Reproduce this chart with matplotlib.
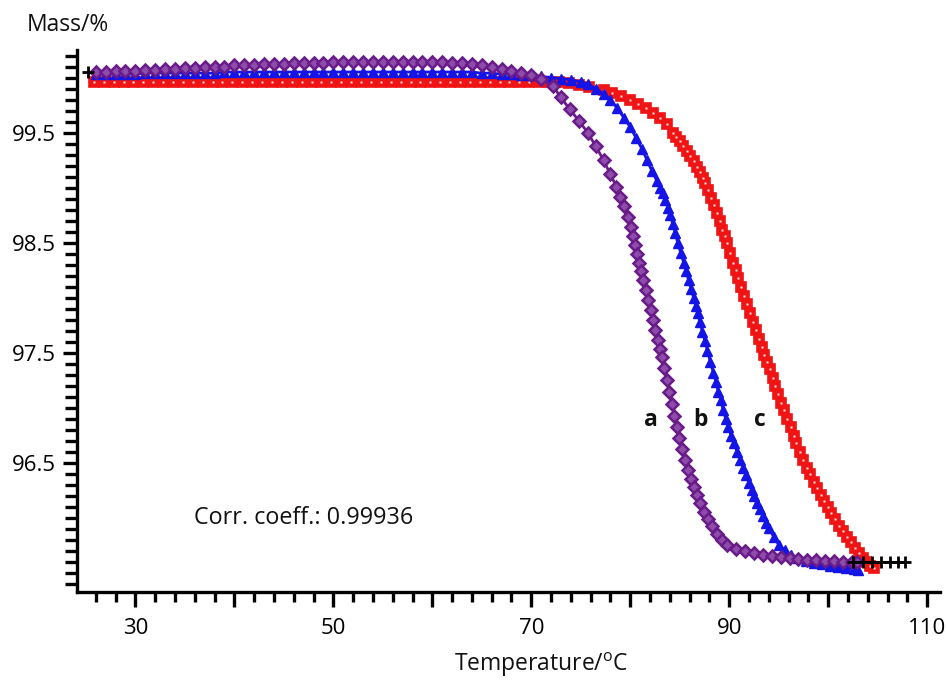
import matplotlib
matplotlib.use("Agg")
import matplotlib.pyplot as plt
from matplotlib.ticker import MultipleLocator, FixedLocator, FuncFormatter

plt.rcParams['font.family'] = ['Open Sans', 'DejaVu Sans']
plt.rcParams['mathtext.fontset'] = 'custom'
plt.rcParams['mathtext.rm'] = 'Open Sans'

# ---------------- data ----------------
temp_a = [26, 27, 28, 29, 30, 31, 32, 33, 34, 35, 36, 37, 38, 39, 40, 41, 42, 43, 44, 45,
          46, 47, 48, 49, 50, 51, 52, 53, 54, 55, 56, 57, 58, 59, 60, 61, 62, 63, 64, 65,
          66, 67, 68, 69, 70, 71,
          72.2, 73.0, 73.9, 74.8, 75.7, 76.5, 77.3, 78.0, 78.6, 79.0, 79.4, 79.8, 80.1, 80.3,
          80.5, 80.7, 80.9, 81.1, 81.3, 81.55, 81.8, 82.05, 82.3, 82.55, 82.8, 83.0, 83.2,
          83.45, 83.7, 83.95, 84.2, 84.45, 84.7, 84.95, 85.2, 85.5, 85.8, 86.1, 86.4, 86.75,
          87.1, 87.5, 87.9, 88.3, 88.8, 89.3, 89.8,
          90.7, 91.6, 92.5, 93.4, 94.3, 95.2, 96.1, 97.0, 97.9, 98.8, 99.7, 100.6,
          101.5, 102.4, 102.9]
mass_a = [100.05, 100.05, 100.06, 100.06, 100.06, 100.07, 100.07, 100.08, 100.08, 100.09,
          100.09, 100.10, 100.10, 100.10, 100.11, 100.11, 100.11, 100.12, 100.12, 100.12,
          100.13, 100.13, 100.13, 100.13, 100.14, 100.14, 100.14, 100.14, 100.14, 100.14,
          100.14, 100.14, 100.14, 100.14, 100.14, 100.14, 100.13, 100.13, 100.12, 100.11,
          100.10, 100.08, 100.06, 100.04, 100.02, 99.99,
          99.92, 99.82, 99.71, 99.61, 99.50, 99.38, 99.25, 99.12, 99.01, 98.92, 98.83, 98.73,
          98.64, 98.56, 98.48, 98.40, 98.32, 98.24, 98.16, 98.07, 97.98, 97.89, 97.80, 97.71,
          97.62, 97.54, 97.46, 97.36, 97.25, 97.15, 97.04, 96.93, 96.83, 96.73, 96.63, 96.53,
          96.44, 96.36, 96.28, 96.21, 96.14, 96.06, 95.99, 95.93, 95.86, 95.80, 95.76,
          95.72, 95.70, 95.68, 95.67, 95.66, 95.65, 95.64, 95.63, 95.62, 95.62, 95.61, 95.61,
          95.60, 95.60, 95.60]

temp_b = [26, 27, 28, 29, 30, 31, 32, 33, 34, 35, 36, 37, 38, 39, 40, 41, 42, 43, 44, 45,
          46, 47, 48, 49, 50, 51, 52, 53, 54, 55, 56, 57, 58, 59, 60, 61, 62, 63, 64, 65,
          66, 67, 68, 69, 70, 71, 72, 73, 74, 75,
          75.7, 76.5, 77.3, 78.0, 78.7, 79.4, 80.0, 80.6, 81.2, 81.7, 82.2, 82.7, 83.0, 83.3,
          83.55, 83.8, 84.05, 84.3, 84.55, 84.8, 85.1, 85.4, 85.65, 85.9, 86.15, 86.4, 86.6,
          86.8, 87.05, 87.3, 87.55, 87.8, 88.1, 88.4, 88.65, 88.9, 89.15, 89.4, 89.65, 89.9,
          90.2, 90.5, 90.8, 91.1, 91.4, 91.7, 92.0, 92.3, 92.55, 92.8, 93.1, 93.4, 93.7, 94.0,
          94.5, 95.0, 95.6, 96.2, 97.0, 97.8, 98.6, 99.4, 100.2, 101.0, 101.8, 102.6, 103.0]
mass_b = [100.03, 100.03, 100.03, 100.03, 100.03, 100.04, 100.04, 100.04, 100.04, 100.04,
          100.04, 100.04, 100.04, 100.05, 100.05, 100.05, 100.05, 100.05, 100.05, 100.05,
          100.05, 100.05, 100.05, 100.05, 100.05, 100.05, 100.05, 100.05, 100.05, 100.05,
          100.05, 100.05, 100.05, 100.05, 100.05, 100.05, 100.05, 100.05, 100.05, 100.04,
          100.04, 100.03, 100.03, 100.02, 100.02, 100.01, 100.00, 99.99, 99.98, 99.96,
          99.94, 99.90, 99.85, 99.80, 99.72, 99.63, 99.55, 99.45, 99.35, 99.25, 99.15, 99.06,
          99.00, 98.95, 98.89, 98.82, 98.75, 98.67, 98.59, 98.50, 98.41, 98.32, 98.24, 98.16,
          98.08, 98.00, 97.93, 97.86, 97.78, 97.69, 97.61, 97.52, 97.42, 97.32, 97.24, 97.15,
          97.07, 96.98, 96.90, 96.83, 96.75, 96.68, 96.60, 96.53, 96.46, 96.39, 96.32, 96.26,
          96.20, 96.14, 96.08, 96.02, 95.96, 95.91, 95.83, 95.76, 95.71, 95.67, 95.64, 95.61,
          95.59, 95.58, 95.57, 95.56, 95.55, 95.54, 95.53]

temp_c = [25.8, 26.8, 27.8, 28.8, 29.8, 30.8, 31.8, 32.8, 33.8, 34.8, 35.8, 36.8, 37.8, 38.8,
          39.8, 40.8, 41.8, 42.8, 43.8, 44.8, 45.8, 46.8, 47.8, 48.8, 49.8, 50.8, 51.8, 52.8,
          53.8, 54.8, 55.8, 56.8, 57.8, 58.8, 59.8, 60.8, 61.8, 62.8, 63.8, 64.8, 65.8, 66.8,
          67.8, 68.8, 69.8, 70.8, 71.8, 72.8, 73.8, 74.8, 75.8,
          77.3, 78.2, 79.1, 80.0, 80.8, 81.6, 82.3, 83.0, 83.7, 84.3, 84.65, 85.0, 85.35,
          85.7, 86.05, 86.4, 86.75, 87.1, 87.35, 87.6, 87.9, 88.2, 88.5, 88.8, 89.05, 89.3,
          89.55, 89.8, 90.1, 90.4, 90.65, 90.9, 91.2, 91.5, 91.8, 92.1, 92.4, 92.7, 93.0,
          93.3, 93.55, 93.8, 94.1, 94.4, 94.65, 94.9, 95.2, 95.5, 95.85, 96.2, 96.5, 96.8,
          97.15, 97.5, 97.85, 98.2, 98.55, 98.9, 99.25, 99.6, 99.95, 100.3, 100.7, 101.1,
          101.5, 101.9, 102.3, 102.7, 103.1, 103.5, 103.85, 104.2, 104.6]
mass_c = [99.96, 99.96, 99.96, 99.96, 99.96, 99.96, 99.96, 99.96, 99.96, 99.96, 99.96, 99.96,
          99.96, 99.96, 99.96, 99.96, 99.96, 99.96, 99.96, 99.96, 99.96, 99.96, 99.96, 99.96,
          99.96, 99.96, 99.96, 99.96, 99.96, 99.96, 99.96, 99.96, 99.96, 99.96, 99.96, 99.96,
          99.96, 99.96, 99.96, 99.96, 99.96, 99.96, 99.96, 99.96, 99.96, 99.96, 99.96, 99.96,
          99.95, 99.93, 99.91,
          99.89, 99.86, 99.83, 99.80, 99.76, 99.72, 99.68, 99.63, 99.58, 99.50, 99.46, 99.42,
          99.38, 99.33, 99.29, 99.24, 99.19, 99.14, 99.09, 99.04, 98.98, 98.91, 98.84, 98.77,
          98.70, 98.62, 98.56, 98.50, 98.41, 98.32, 98.25, 98.18, 98.10, 98.02, 97.94, 97.86,
          97.78, 97.71, 97.63, 97.55, 97.48, 97.42, 97.35, 97.27, 97.20, 97.13, 97.05, 96.98,
          96.90, 96.83, 96.75, 96.68, 96.60, 96.53, 96.46, 96.40, 96.33, 96.27, 96.21, 96.16,
          96.10, 96.05, 95.99, 95.93, 95.88, 95.83, 95.78, 95.73, 95.68, 95.64, 95.60, 95.57,
          95.55]

fit_start_temp = [25.2]
fit_start_mass = [100.05]
fit_tail_temp = [102.5, 103.5, 104.4, 105.3, 106.2, 107.1, 107.8]
fit_tail_mass = [95.60, 95.60, 95.60, 95.60, 95.60, 95.60, 95.60]

curve_labels = ['a', 'b', 'c']
label_temp = [82.1, 87.1, 93.1]
label_mass = [96.89, 96.89, 96.89]

x_label_ticks = [30, 50, 70, 90, 110]
y_label_ticks = [96.5, 97.5, 98.5, 99.5]
corr_text = 'Corr. coeff.: 0.99936'

# ---------------- figure ----------------
W, H = 947, 680
fig = plt.figure(figsize=(W / 100, H / 100), dpi=100)
ax = fig.add_axes([77 / W, 1 - 592 / H, (940 - 77) / W, (592 - 50) / H])

purple = '#6A1A8A'
blue = '#1414E6'
red = '#F01414'

ax.plot(temp_c, mass_c, color=red, lw=2, marker='s', ms=6.5, mfc=red,
        mec=red, mew=1.2, zorder=2)
ax.plot(temp_c, mass_c, ls='none', marker='s', ms=2, mfc='#FFE8E8',
        mec='none', zorder=2.1)
ax.plot(temp_b, mass_b, color=blue, lw=2, marker='^', ms=7, mfc=blue,
        mec=blue, mew=1, zorder=3)
ax.plot(temp_a, mass_a, color=purple, lw=2, marker='D', ms=6, mfc='#8C4CA8',
        mec=purple, mew=1.8, zorder=4)
ax.plot(fit_start_temp, fit_start_mass, ls='none', marker='+', ms=8, mew=2,
        color='black', zorder=5)
ax.plot(fit_tail_temp, fit_tail_mass, color='black', lw=1.5, marker='+', ms=8,
        mew=2, zorder=5)

for lab, tx, my in zip(curve_labels, label_temp, label_mass):
    ax.text(tx, my, lab, fontsize=16.5, fontweight='bold', ha='center', va='center',
            color='#111111')

ax.text(0.135, 0.136, corr_text, transform=ax.transAxes, fontsize=16.8,
        ha='left', va='center', color='#111111')

ax.set_xlim(24.1, 111.3)
ax.set_ylim(95.33, 100.25)

for s in ['top', 'right']:
    ax.spines[s].set_visible(False)
for s in ['left', 'bottom']:
    ax.spines[s].set_linewidth(2.4)

ax.xaxis.set_major_locator(MultipleLocator(10))
ax.xaxis.set_minor_locator(MultipleLocator(2))
ax.xaxis.set_major_formatter(FuncFormatter(
    lambda v, p: f'{v:.0f}' if round(v) in x_label_ticks else ''))
ax.yaxis.set_major_locator(FixedLocator(y_label_ticks))
ax.yaxis.set_minor_locator(MultipleLocator(0.1))
ax.yaxis.set_major_formatter(FuncFormatter(lambda v, p: f'{v:.1f}'))

ax.tick_params(axis='x', which='major', length=11, width=2.4, labelsize=16, pad=8,
               direction='out')
ax.tick_params(axis='x', which='minor', length=7, width=2.4, direction='out')
ax.tick_params(axis='y', which='major', length=10, width=2.4, labelsize=16, pad=5,
               direction='out')
ax.tick_params(axis='y', which='minor', length=9, width=2.4, direction='out')

fig.text(27 / W, 1 - 25 / H, 'Mass/%', fontsize=16.5, ha='left', va='center',
         color='#111111')
fig.text(541 / W, 1 - 665 / H, r'Temperature/$^{\mathrm{o}}$C', fontsize=16.5,
         ha='center', va='center', color='#111111')

fig.savefig('out.png', dpi=100, facecolor='white')
